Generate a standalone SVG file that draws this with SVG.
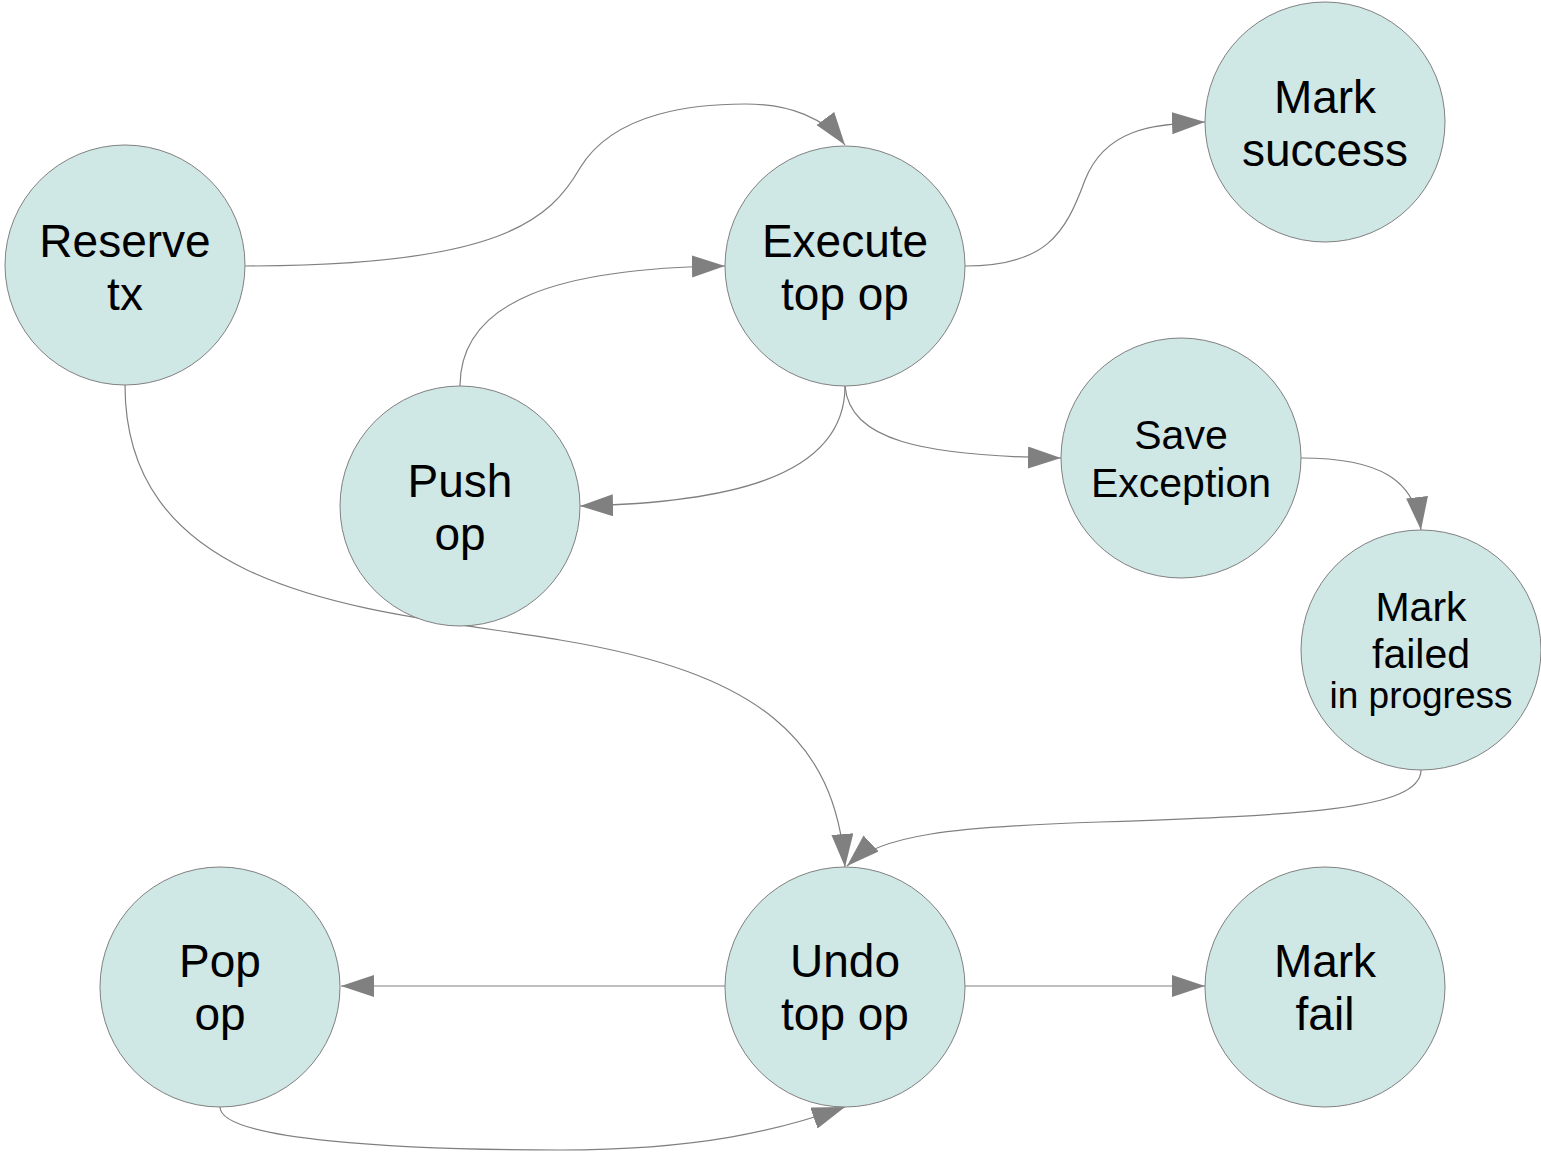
<svg xmlns="http://www.w3.org/2000/svg" width="1541" height="1155" viewBox="0 0 1541 1155">
  <defs>
    <style>
      .node circle { fill: #cfe7e5; stroke: #808080; stroke-width: 1; }
      .node text { font-family: "Liberation Sans", Arial, sans-serif; fill: #000; text-anchor: middle; }
      .big { font-size: 46px; }
      .mid { font-size: 41px; }
      .small { font-size: 37px; }
      .edge { fill: none; stroke: #808080; stroke-width: 1.2; marker-end: url(#arrow); }
    </style>
    <marker id="arrow" markerUnits="userSpaceOnUse" markerWidth="34" markerHeight="24" refX="33" refY="11" orient="auto">
      <path d="M0,0 L33,11 L0,22 z" fill="#808080"/>
    </marker>
  </defs>
  <rect width="1541" height="1155" fill="#ffffff"/>

  <g id="connectors">
    <!-- Reserve tx -> Execute top op -->
    <path class="edge" d="M245,266 C 500,266 550,220 580,168 C 615,110 700,104 745,104 C 790,104 825,118 845,145"/>
    <!-- Push op -> Execute top op -->
    <path class="edge" d="M460,386 C 460,300 560,268 725,266"/>
    <!-- Execute top op -> Mark success -->
    <path class="edge" d="M965,266 C 1045,266 1065,235 1085,180 C 1105,130 1150,124 1205,122"/>
    <!-- Execute top op -> Push op -->
    <path class="edge" d="M845,386 C 845,480 720,503 580,506"/>
    <!-- Execute top op -> Save Exception -->
    <path class="edge" d="M845,386 C 850,440 920,456 1061,458"/>
    <!-- Save Exception -> Mark failed in progress -->
    <path class="edge" d="M1301,458 C 1380,458 1415,480 1421,530"/>
    <!-- Reserve tx -> Undo top op -->
    <path class="edge" d="M125,385 C 125,600 380,610 560,640 C 760,673 835,740 845,867"/>
    <!-- Mark failed in progress -> Undo top op -->
    <path class="edge" d="M1421,770 C 1421,810 1300,815 1100,822 C 950,827 880,835 847,866"/>
    <!-- Undo top op -> Pop op -->
    <path class="edge" d="M725,986 L341,986"/>
    <!-- Undo top op -> Mark fail -->
    <path class="edge" d="M965,986 L1205,986"/>
    <!-- Pop op -> Undo top op -->
    <path class="edge" d="M220,1107 C 220,1140 400,1150 560,1150 C 700,1150 780,1130 845,1107"/>
  </g>

  <g id="reserve-tx" class="node">
    <circle cx="125" cy="265" r="120"/>
    <text class="big" x="125" y="257">Reserve</text>
    <text class="big" x="125" y="310">tx</text>
  </g>
  <g id="execute-top-op" class="node">
    <circle cx="845" cy="266" r="120"/>
    <text class="big" x="845" y="257">Execute</text>
    <text class="big" x="845" y="310">top op</text>
  </g>
  <g id="mark-success" class="node">
    <circle cx="1325" cy="122" r="120"/>
    <text class="big" x="1325" y="113">Mark</text>
    <text class="big" x="1325" y="166">success</text>
  </g>
  <g id="push-op" class="node">
    <circle cx="460" cy="506" r="120"/>
    <text class="big" x="460" y="497">Push</text>
    <text class="big" x="460" y="550">op</text>
  </g>
  <g id="save-exception" class="node">
    <circle cx="1181" cy="458" r="120"/>
    <text class="mid" x="1181" y="449">Save</text>
    <text class="mid" x="1181" y="497">Exception</text>
  </g>
  <g id="mark-failed-in-progress" class="node">
    <circle cx="1421" cy="650" r="120"/>
    <text class="mid" x="1421" y="621">Mark</text>
    <text class="mid" x="1421" y="668">failed</text>
    <text class="small" x="1421" y="708">in progress</text>
  </g>
  <g id="undo-top-op" class="node">
    <circle cx="845" cy="987" r="120"/>
    <text class="big" x="845" y="977">Undo</text>
    <text class="big" x="845" y="1030">top op</text>
  </g>
  <g id="pop-op" class="node">
    <circle cx="220" cy="987" r="120"/>
    <text class="big" x="220" y="977">Pop</text>
    <text class="big" x="220" y="1030">op</text>
  </g>
  <g id="mark-fail" class="node">
    <circle cx="1325" cy="987" r="120"/>
    <text class="big" x="1325" y="977">Mark</text>
    <text class="big" x="1325" y="1030">fail</text>
  </g>
</svg>
